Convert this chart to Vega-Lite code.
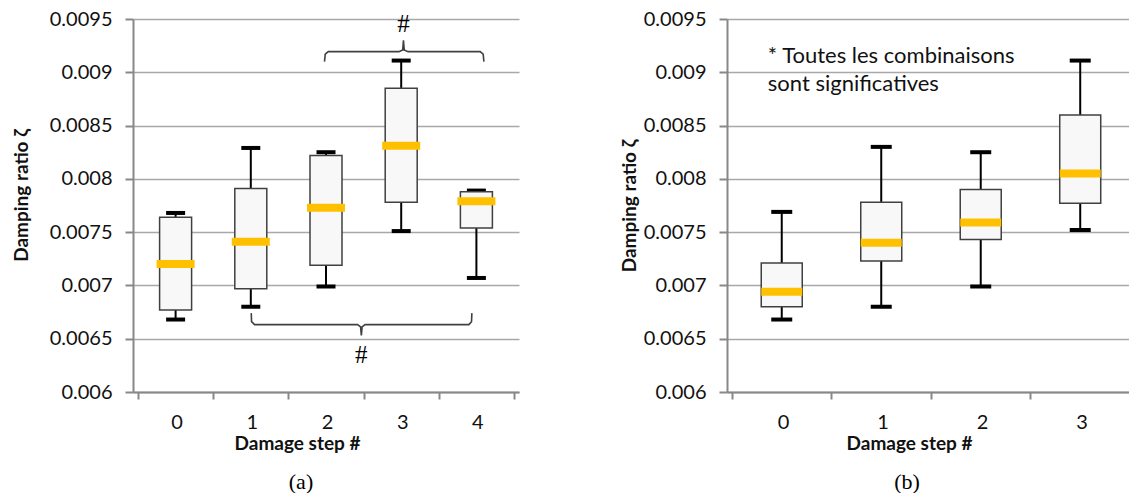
{
  "$schema": "https://vega.github.io/schema/vega-lite/v6.json",
  "padding": {"left": 12, "top": 9, "right": 0, "bottom": 0},
  "background": "white",
  "spacing": 67,
  "config": {
    "view": {"stroke": null},
    "font": "Lato",
    "axis": {
      "labelFont": "Lato", "labelFontSize": 20, "labelColor": "#111111",
      "titleFont": "Lato", "titleFontSize": 19, "titleFontWeight": "bold", "titleColor": "#111111",
      "domainColor": "#888888", "domainWidth": 2, "tickColor": "#888888", "tickWidth": 2,
      "gridColor": "#A8A8A8", "gridWidth": 1.6
    }
  },
  "datasets": {
    "boxA": [
      {"step": 0, "lo": 0.00668, "q1": 0.00677, "median": 0.0072, "q3": 0.00764, "hi": 0.00768},
      {"step": 1, "lo": 0.0068, "q1": 0.00697, "median": 0.00741, "q3": 0.00791, "hi": 0.00829},
      {"step": 2, "lo": 0.00699, "q1": 0.00719, "median": 0.00773, "q3": 0.00822, "hi": 0.00825},
      {"step": 3, "lo": 0.00751, "q1": 0.00778, "median": 0.00831, "q3": 0.00885, "hi": 0.00911},
      {"step": 4, "lo": 0.00707, "q1": 0.00754, "median": 0.00779, "q3": 0.00788, "hi": 0.00789}
    ],
    "boxB": [
      {"step": 0, "lo": 0.00668, "q1": 0.0068, "median": 0.00694, "q3": 0.00721, "hi": 0.00769},
      {"step": 1, "lo": 0.0068, "q1": 0.00723, "median": 0.0074, "q3": 0.00778, "hi": 0.0083},
      {"step": 2, "lo": 0.00699, "q1": 0.00743, "median": 0.00759, "q3": 0.0079, "hi": 0.00825},
      {"step": 3, "lo": 0.00752, "q1": 0.00777, "median": 0.00805, "q3": 0.0086, "hi": 0.00911}
    ],
    "brackets": [
      {"b": "top", "ord": 1, "step": 1.98, "v": 0.0091},
      {"b": "top", "ord": 2, "step": 1.99, "v": 0.00917},
      {"b": "top", "ord": 3, "step": 2.03, "v": 0.009194},
      {"b": "top", "ord": 4, "step": 2.97, "v": 0.009194},
      {"b": "top", "ord": 5, "step": 3.02, "v": 0.00921},
      {"b": "top", "ord": 6, "step": 3.03, "v": 0.0093},
      {"b": "top", "ord": 7, "step": 3.04, "v": 0.00921},
      {"b": "top", "ord": 8, "step": 3.09, "v": 0.009194},
      {"b": "top", "ord": 9, "step": 4.05, "v": 0.009194},
      {"b": "top", "ord": 10, "step": 4.09, "v": 0.00917},
      {"b": "top", "ord": 11, "step": 4.1, "v": 0.0091},
      {"b": "bottom", "ord": 1, "step": 1.006, "v": 0.00674},
      {"b": "bottom", "ord": 2, "step": 1.01, "v": 0.00666},
      {"b": "bottom", "ord": 3, "step": 1.05, "v": 0.006632},
      {"b": "bottom", "ord": 4, "step": 2.42, "v": 0.006632},
      {"b": "bottom", "ord": 5, "step": 2.46, "v": 0.00661},
      {"b": "bottom", "ord": 6, "step": 2.47, "v": 0.00653},
      {"b": "bottom", "ord": 7, "step": 2.48, "v": 0.00661},
      {"b": "bottom", "ord": 8, "step": 2.52, "v": 0.006632},
      {"b": "bottom", "ord": 9, "step": 3.9, "v": 0.006632},
      {"b": "bottom", "ord": 10, "step": 3.935, "v": 0.00666},
      {"b": "bottom", "ord": 11, "step": 3.94, "v": 0.00674}
    ],
    "hashes": [
      {"step": 3.03, "v": 0.009453, "t": "#"},
      {"step": 2.47, "v": 0.006351, "t": "#"}
    ],
    "note": [
      {"step": -0.14, "v": 0.00915, "t": "* Toutes les combinaisons"},
      {"step": -0.14, "v": 0.008886, "t": "sont significatives"}
    ]
  },
  "hconcat": [
    {
      "width": 386,
      "height": 373,
      "title": {"text": "(a)", "orient": "bottom", "frame": "group", "anchor": "middle", "dx": -25, "offset": 19, "font": "Liberation Serif", "fontSize": 22, "fontWeight": "normal", "color": "#000000"},
      "encoding": {
        "x": {
          "field": "step", "type": "quantitative",
          "scale": {"domain": [-0.5, 4.5], "nice": false, "zero": false},
          "title": "Damage step #",
          "axis": {
            "values": [-0.5, 0.5, 1.5, 2.5, 3.5, 4.5],
            "labelExpr": "datum.value < 4 ? format(datum.value + 0.5, 'd') : ''",
            "labelOffset": 38.6, "labelFlush": false, "labelOverlap": false, "labelBound": false,
            "grid": false, "tickSize": 7, "labelPadding": 13, "titlePadding": 2, "titleX": 164, "labelAngle": 0
          }
        }
      },
      "layer": [
        {
          "data": {"name": "boxA"},
          "mark": {"type": "rule", "color": "#000000", "strokeWidth": 2},
          "encoding": {
            "y": {
              "field": "lo", "type": "quantitative",
              "scale": {"domain": [0.006, 0.0095], "nice": false, "zero": false},
              "title": "Damping ratio ζ",
              "axis": {
                "values": [0.006, 0.0065, 0.007, 0.0075, 0.008, 0.0085, 0.009, 0.0095],
                "format": "~g", "grid": true, "tickSize": 8, "labelPadding": 13, "titlePadding": 18, "titleY": 176
              }
            },
            "y2": {"field": "hi"}
          }
        },
        {
          "data": {"name": "brackets"},
          "mark": {"type": "line", "color": "#404040", "strokeWidth": 1.6},
          "encoding": {
            "y": {"field": "v", "type": "quantitative", "title": "Damping ratio ζ"},
            "detail": {"field": "b"},
            "order": {"field": "ord", "type": "quantitative"}
          }
        },
        {
          "data": {"name": "hashes"},
          "mark": {"type": "text", "font": "Liberation Serif", "fontSize": 25, "color": "#000000", "baseline": "middle", "align": "center"},
          "encoding": {
            "y": {"field": "v", "type": "quantitative", "title": "Damping ratio ζ"},
            "text": {"field": "t"}
          }
        },
        {
          "data": {"name": "boxA"},
          "mark": {"type": "tick", "orient": "horizontal", "color": "#000000", "opacity": 1, "size": 19, "thickness": 4},
          "encoding": {"y": {"field": "lo", "type": "quantitative", "title": "Damping ratio ζ"}}
        },
        {
          "data": {"name": "boxA"},
          "mark": {"type": "tick", "orient": "horizontal", "color": "#000000", "opacity": 1, "size": 19, "thickness": 4},
          "encoding": {"y": {"field": "hi", "type": "quantitative", "title": "Damping ratio ζ"}}
        },
        {
          "data": {"name": "boxA"},
          "mark": {"type": "bar", "orient": "vertical", "size": 32, "fill": "#F8F8F8", "stroke": "#404040", "strokeWidth": 1.5, "opacity": 1},
          "encoding": {
            "y": {"field": "q1", "type": "quantitative", "title": "Damping ratio ζ"},
            "y2": {"field": "q3"}
          }
        },
        {
          "data": {"name": "boxA"},
          "mark": {"type": "tick", "orient": "horizontal", "color": "#FFC000", "opacity": 1, "size": 38, "thickness": 8},
          "encoding": {"y": {"field": "median", "type": "quantitative", "title": "Damping ratio ζ"}}
        }
      ]
    },
    {
      "width": 402,
      "height": 373,
      "title": {"text": "(b)", "orient": "bottom", "frame": "group", "anchor": "middle", "dx": -21, "offset": 19, "font": "Liberation Serif", "fontSize": 22, "fontWeight": "normal", "color": "#000000"},
      "encoding": {
        "x": {
          "field": "step", "type": "quantitative",
          "scale": {"domain": [-0.5, 3.44], "nice": false, "zero": false},
          "title": "Damage step #",
          "axis": {
            "values": [-0.5, 0.5, 1.5, 2.5],
            "labelExpr": "format(datum.value + 0.5, 'd')",
            "labelOffset": 51, "labelFlush": false, "labelOverlap": false, "labelBound": false,
            "grid": false, "tickSize": 7, "labelPadding": 13, "titlePadding": 2, "titleX": 182, "labelAngle": 0
          }
        }
      },
      "layer": [
        {
          "data": {"name": "boxB"},
          "mark": {"type": "rule", "color": "#000000", "strokeWidth": 2},
          "encoding": {
            "y": {
              "field": "lo", "type": "quantitative",
              "scale": {"domain": [0.006, 0.0095], "nice": false, "zero": false},
              "title": "Damping ratio ζ",
              "axis": {
                "values": [0.006, 0.0065, 0.007, 0.0075, 0.008, 0.0085, 0.009, 0.0095],
                "format": "~g", "grid": true, "tickSize": 8, "labelPadding": 13, "titlePadding": 4
              }
            },
            "y2": {"field": "hi"}
          }
        },
        {
          "data": {"name": "note"},
          "mark": {"type": "text", "font": "Lato", "fontSize": 22, "color": "#111111", "baseline": "middle", "align": "left"},
          "encoding": {
            "y": {"field": "v", "type": "quantitative", "title": "Damping ratio ζ"},
            "text": {"field": "t"}
          }
        },
        {
          "data": {"name": "boxB"},
          "mark": {"type": "tick", "orient": "horizontal", "color": "#000000", "opacity": 1, "size": 21, "thickness": 4},
          "encoding": {"y": {"field": "lo", "type": "quantitative", "title": "Damping ratio ζ"}}
        },
        {
          "data": {"name": "boxB"},
          "mark": {"type": "tick", "orient": "horizontal", "color": "#000000", "opacity": 1, "size": 21, "thickness": 4},
          "encoding": {"y": {"field": "hi", "type": "quantitative", "title": "Damping ratio ζ"}}
        },
        {
          "data": {"name": "boxB"},
          "mark": {"type": "bar", "orient": "vertical", "size": 41, "fill": "#F8F8F8", "stroke": "#404040", "strokeWidth": 1.5, "opacity": 1},
          "encoding": {
            "y": {"field": "q1", "type": "quantitative", "title": "Damping ratio ζ"},
            "y2": {"field": "q3"}
          }
        },
        {
          "data": {"name": "boxB"},
          "mark": {"type": "tick", "orient": "horizontal", "color": "#FFC000", "opacity": 1, "size": 41, "thickness": 8},
          "encoding": {"y": {"field": "median", "type": "quantitative", "title": "Damping ratio ζ"}}
        }
      ]
    }
  ]
}
